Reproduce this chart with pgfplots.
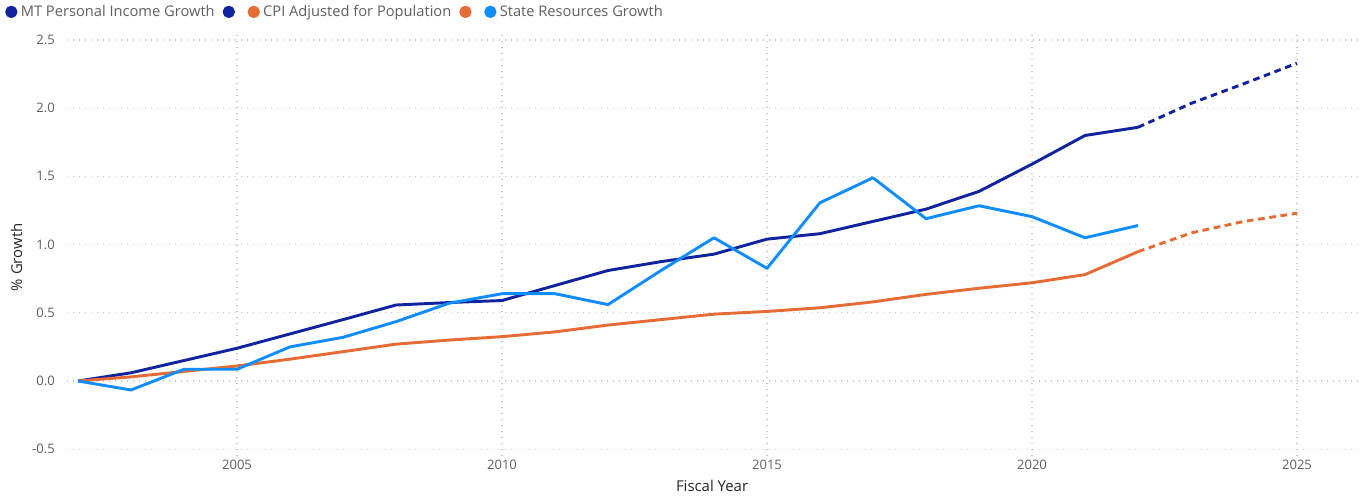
\documentclass[border=0pt]{standalone}
\usepackage{pgfplots}
\pgfplotsset{compat=1.18}
\usepackage{fontspec}
\setmainfont{Open Sans}

\definecolor{mtblue}{HTML}{12239E}
\definecolor{cpiorange}{HTML}{E66C37}
\definecolor{stateblue}{HTML}{118DFF}
\definecolor{ticktext}{HTML}{605E5C}
\definecolor{titletext}{HTML}{252423}
\definecolor{gridc}{HTML}{C8C6C4}

\begin{document}
\begin{tikzpicture}
\useasboundingbox (0,0) rectangle (1025.25pt,372pt);
\begin{axis}[
    at={(50.55pt,30pt)}, anchor=south west,
    scale only axis, width=969.9pt, height=317.1pt,
    xmin=2001.8, xmax=2026.2,
    ymin=-0.55, ymax=2.55,
    xtick={2005,2010,2015,2020,2025},
    ytick={-0.5,0,0.5,1,1.5,2,2.5},
    /pgf/number format/assume math mode=true,
    /pgf/number format/1000 sep={},
    yticklabel style={/pgf/number format/fixed, /pgf/number format/precision=1,
        /pgf/number format/fixed zerofill, font=\fontsize{9.8}{11}\selectfont,
        text=ticktext, inner sep=0pt, anchor=east, xshift=-9.3pt},
    xticklabel style={font=\fontsize{9.8}{11}\selectfont, text=ticktext,
        inner sep=0pt, anchor=north, yshift=-2.5pt},
    axis line style={draw=none},
    major tick length=0pt,
    grid=major,
    major grid style={gridc, line width=0.8pt, dash pattern=on 0.8pt off 3.7pt},
    xlabel={Fiscal Year},
    ylabel={\% Growth},
    label style={font=\fontsize{11.2}{13}\selectfont, text=titletext},
    xlabel style={at={(axis description cs:0.4985,-0.0714)}, anchor=center},
    ylabel style={at={(axis description cs:-0.0393,0.47)}, anchor=center},
    legend columns=-1,
    legend style={at={(axis description cs:-0.0483,1.0667)}, anchor=north west,
        draw=none, fill=none, inner sep=0pt,
        font=\fontsize{11}{13}\selectfont, text=ticktext,
        nodes={inner sep=0pt},
        /tikz/every odd column/.append style={column sep=2.5pt},
        /tikz/every even column/.append style={column sep=6pt}},
    legend image code/.code={\fill[solid] (3.75pt,0pt) circle (3.5pt);},
    every axis plot/.append style={line width=2.2pt, line join=round},
]
\addplot[color=mtblue] coordinates {
    (2002,0) (2003,0.06) (2004,0.15) (2005,0.24) (2006,0.345) (2007,0.45)
    (2008,0.557) (2009,0.575) (2010,0.59) (2011,0.70) (2012,0.81) (2013,0.875)
    (2014,0.93) (2015,1.04) (2016,1.08) (2017,1.17) (2018,1.26) (2019,1.39)
    (2020,1.59) (2021,1.80) (2022,1.86)};
\addlegendentry{MT Personal Income Growth}
\addplot[color=mtblue, dash pattern=on 5pt off 3.5pt] coordinates {
    (2022,1.86) (2023,2.035) (2024,2.18) (2025,2.33)};
\addlegendentry{\hspace{5pt}}
\addplot[color=cpiorange] coordinates {
    (2002,0) (2003,0.03) (2004,0.07) (2005,0.11) (2006,0.16) (2007,0.215)
    (2008,0.27) (2009,0.30) (2010,0.325) (2011,0.36) (2012,0.41) (2013,0.45)
    (2014,0.49) (2015,0.51) (2016,0.537) (2017,0.58) (2018,0.635) (2019,0.68)
    (2020,0.72) (2021,0.78) (2022,0.948)};
\addlegendentry{CPI Adjusted for Population}
\addplot[color=cpiorange, dash pattern=on 5pt off 3.5pt] coordinates {
    (2022,0.948) (2023,1.085) (2024,1.17) (2025,1.23)};
\addlegendentry{\hspace{5pt}}
\addplot[color=stateblue] coordinates {
    (2002,0) (2003,-0.066) (2004,0.086) (2005,0.086) (2006,0.25) (2007,0.32)
    (2008,0.435) (2009,0.57) (2010,0.64) (2011,0.64) (2012,0.56) (2013,0.81)
    (2014,1.05) (2015,0.826) (2016,1.307) (2017,1.49) (2018,1.19) (2019,1.285)
    (2020,1.205) (2021,1.05) (2022,1.14)};
\addlegendentry{State Resources Growth}
\end{axis}
\end{tikzpicture}
\end{document}
